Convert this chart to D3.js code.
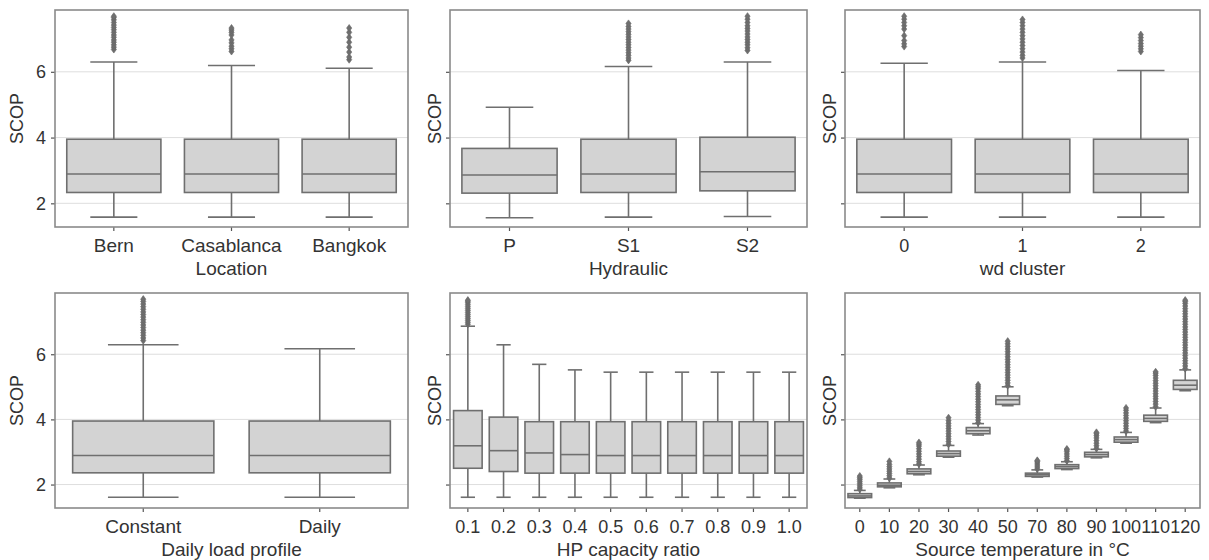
<!DOCTYPE html>
<html>
<head>
<meta charset="utf-8">
<script src="https://cdn.jsdelivr.net/npm/d3@7/dist/d3.min.js"></script>
<style>
  body { margin: 0; background: #fff; }
  text { font-family: "Liberation Sans", Arial, sans-serif; fill: #333; }
</style>
</head>
<body>
<div id="chart"></div>
<script>
"use strict";

// stats per box: [whisker low, q1, median, q3, whisker high]
const locationCats = ["Bern", "Casablanca", "Bangkok"];
const locationStats = [
    [1.58, 2.33, 2.89, 3.95, 6.30],
    [1.58, 2.33, 2.89, 3.95, 6.19],
    [1.58, 2.33, 2.89, 3.95, 6.11]
];
const locationFliers = [
    [6.68, 6.75, 6.82, 6.90, 6.97, 7.05, 7.12, 7.20, 7.28, 7.35, 7.42, 7.50, 7.58, 7.65, 7.69],
    [6.62, 6.70, 6.78, 6.88, 6.97, 7.12, 7.20, 7.27, 7.33],
    [6.37, 6.45, 6.60, 6.75, 6.90, 7.05, 7.20, 7.33]
];

const hydraulicCats = ["P", "S1", "S2"];
const hydraulicStats = [
    [1.56, 2.31, 2.86, 3.67, 4.92],
    [1.58, 2.33, 2.89, 3.95, 6.16],
    [1.60, 2.38, 2.96, 4.01, 6.30]
];
const hydraulicFliers = [
    [],
    [6.35, 6.42, 6.50, 6.58, 6.66, 6.74, 6.82, 6.90, 6.98, 7.06, 7.14, 7.22, 7.30, 7.38, 7.47],
    [6.65, 6.73, 6.82, 6.90, 6.98, 7.06, 7.15, 7.24, 7.32, 7.40, 7.50, 7.60, 7.69]
];

const clusterCats = ["0", "1", "2"];
const clusterStats = [
    [1.58, 2.33, 2.89, 3.95, 6.26],
    [1.58, 2.33, 2.89, 3.95, 6.30],
    [1.58, 2.33, 2.89, 3.95, 6.04]
];
const clusterFliers = [
    [6.77, 6.85, 6.95, 7.10, 7.30, 7.40, 7.50, 7.60, 7.69],
    [6.42, 6.50, 6.60, 6.70, 6.80, 6.90, 7.00, 7.10, 7.20, 7.30, 7.40, 7.50, 7.59],
    [6.62, 6.70, 6.78, 6.86, 6.95, 7.04, 7.13]
];

const profileCats = ["Constant", "Daily"];
const profileStats = [
    [1.61, 2.36, 2.89, 3.95, 6.29],
    [1.61, 2.36, 2.89, 3.95, 6.17]
];
const profileFliers = [
    [6.42, 6.50, 6.58, 6.66, 6.74, 6.82, 6.90, 6.98, 7.06, 7.14, 7.22, 7.30, 7.38, 7.46, 7.54, 7.62, 7.69],
    []
];

const ratioCats = ["0.1", "0.2", "0.3", "0.4", "0.5", "0.6", "0.7", "0.8", "0.9", "1.0"];
const ratioStats = [
    [1.61, 2.50, 3.19, 4.27, 6.86],
    [1.61, 2.40, 3.04, 4.07, 6.29],
    [1.61, 2.35, 2.97, 3.93, 5.69],
    [1.61, 2.35, 2.92, 3.93, 5.52],
    [1.61, 2.35, 2.89, 3.93, 5.45],
    [1.61, 2.35, 2.89, 3.93, 5.45],
    [1.61, 2.35, 2.89, 3.93, 5.45],
    [1.61, 2.35, 2.89, 3.93, 5.45],
    [1.61, 2.35, 2.89, 3.93, 5.45],
    [1.61, 2.35, 2.89, 3.93, 5.45]
];
const ratioFliers = [
    [6.92, 6.98, 7.04, 7.10, 7.16, 7.22, 7.28, 7.34, 7.40, 7.46, 7.52, 7.58, 7.63, 7.66],
    [], [], [], [], [], [], [], [], []
];

const tempCats = ["0", "10", "20", "30", "40", "50", "70", "80", "90", "100", "110", "120"];
const tempStats = [
    [1.58, 1.60, 1.65, 1.72, 1.82],
    [1.90, 1.93, 1.98, 2.05, 2.17],
    [2.30, 2.33, 2.40, 2.48, 2.60],
    [2.84, 2.87, 2.95, 3.03, 3.20],
    [3.52, 3.56, 3.65, 3.75, 3.87],
    [4.42, 4.46, 4.60, 4.72, 5.00],
    [2.23, 2.25, 2.30, 2.35, 2.45],
    [2.46, 2.49, 2.55, 2.61, 2.70],
    [2.82, 2.85, 2.92, 2.99, 3.08],
    [3.27, 3.30, 3.38, 3.46, 3.60],
    [3.90, 3.94, 4.03, 4.13, 4.35],
    [4.88, 4.92, 5.05, 5.20, 5.52]
];
const tempFliers = [
    [1.86, 1.92, 1.98, 2.04, 2.10, 2.16, 2.21, 2.26],
    [2.20, 2.27, 2.34, 2.41, 2.48, 2.55, 2.62, 2.71],
    [2.63, 2.70, 2.78, 2.86, 2.94, 3.02, 3.10, 3.18, 3.24, 3.29],
    [3.24, 3.32, 3.40, 3.48, 3.56, 3.64, 3.72, 3.80, 3.88, 3.96, 4.05],
    [3.90, 3.98, 4.06, 4.14, 4.22, 4.30, 4.38, 4.46, 4.54, 4.62, 4.70, 4.78, 4.86, 4.94, 5.00, 5.06],
    [5.04, 5.12, 5.20, 5.28, 5.36, 5.44, 5.52, 5.60, 5.68, 5.76, 5.84, 5.92, 6.00, 6.08, 6.16, 6.24, 6.32, 6.40],
    [2.48, 2.54, 2.60, 2.66, 2.71, 2.74],
    [2.73, 2.80, 2.87, 2.94, 3.01, 3.06, 3.09],
    [3.11, 3.19, 3.27, 3.35, 3.43, 3.50, 3.56, 3.60],
    [3.64, 3.72, 3.80, 3.88, 3.96, 4.04, 4.12, 4.20, 4.28, 4.35],
    [4.39, 4.47, 4.55, 4.63, 4.71, 4.79, 4.87, 4.95, 5.03, 5.11, 5.19, 5.27, 5.35, 5.42, 5.46],
    [5.56, 5.64, 5.72, 5.80, 5.88, 5.96, 6.04, 6.12, 6.20, 6.28, 6.36, 6.44, 6.52, 6.60, 6.68, 6.76, 6.84, 6.92, 7.00, 7.08, 7.16, 7.24, 7.32, 7.40, 7.48, 7.56, 7.62, 7.66]
];

const yTicks = [2, 4, 6];
const yDomain = [1.28, 7.88];

const msm = {
    width: 1209,
    height: 560,
    cols: [[55, 408], [450, 807], [845, 1200]],
    rows: [[10, 227], [293, 508]]
}

const boxColor = "#6f6f6f";
const boxFill = "#d3d3d3";

const panels = [
    { cats: locationCats, stats: locationStats, fliers: locationFliers, xlabel: "Location", row: 0, col: 0 },
    { cats: hydraulicCats, stats: hydraulicStats, fliers: hydraulicFliers, xlabel: "Hydraulic", row: 0, col: 1 },
    { cats: clusterCats, stats: clusterStats, fliers: clusterFliers, xlabel: "wd cluster", row: 0, col: 2 },
    { cats: profileCats, stats: profileStats, fliers: profileFliers, xlabel: "Daily load profile", row: 1, col: 0 },
    { cats: ratioCats, stats: ratioStats, fliers: ratioFliers, xlabel: "HP capacity ratio", row: 1, col: 1 },
    { cats: tempCats, stats: tempStats, fliers: tempFliers, xlabel: "Source temperature in \u00B0C", row: 1, col: 2 }
];

const svg = d3.select("#chart")
    .append("svg")
    .attr("width", msm.width)
    .attr("height", msm.height);

panels.forEach((p) => drawPanel(p));

function drawPanel(p) {
    let [x0, x1] = msm.cols[p.col];
    let [y0, y1] = msm.rows[p.row];
    let g = svg.append("g");

    let xScale = d3.scaleBand()
        .domain(p.cats)
        .range([x0, x1])
        .padding(0);
    let yScale = d3.scaleLinear()
        .domain(yDomain)
        .range([y1, y0]);

    // grid
    g.selectAll(".grid")
        .data(yTicks)
        .enter()
        .append("line")
        .attr("x1", x0).attr("x2", x1)
        .attr("y1", (d) => yScale(d)).attr("y2", (d) => yScale(d))
        .attr("stroke", "#dedede")
        .attr("stroke-width", 1);

    // axes
    let yAxis = d3.axisLeft(yScale)
        .tickValues(yTicks)
        .tickSize(4)
        .tickPadding(5)
        .tickFormat(p.col == 0 ? d3.format("d") : () => "");
    let ya = g.append("g")
        .attr("transform", "translate(" + x0 + ",0)")
        .call(yAxis);

    let xAxis = d3.axisBottom(xScale)
        .tickSize(4)
        .tickPadding(8);
    let xa = g.append("g")
        .attr("transform", "translate(0," + y1 + ")")
        .call(xAxis);

    [ya, xa].forEach((a) => {
        a.select(".domain").remove();
        a.selectAll(".tick line").attr("stroke", "#555").attr("stroke-width", 1.2);
        a.selectAll(".tick text")
            .style("font-size", (d) => isNaN(+d) ? "19px" : "18px")
            .style("font-family", "'Liberation Sans', Arial, sans-serif")
            .attr("fill", "#333");
    });

    // boxes
    let bw = xScale.bandwidth() * 0.8;
    let boxes = g.selectAll(".box")
        .data(p.stats)
        .enter()
        .append("g")
        .attr("transform", (d, i) => "translate(" + (xScale(p.cats[i]) + xScale.bandwidth() / 2) + ",0)");

    boxes.append("line")
        .attr("x1", 0).attr("x2", 0)
        .attr("y1", (d) => yScale(d[0])).attr("y2", (d) => yScale(d[1]))
        .attr("stroke", boxColor).attr("stroke-width", 1.6);
    boxes.append("line")
        .attr("x1", 0).attr("x2", 0)
        .attr("y1", (d) => yScale(d[3])).attr("y2", (d) => yScale(d[4]))
        .attr("stroke", boxColor).attr("stroke-width", 1.6);
    boxes.selectAll(".cap")
        .data((d) => [d[0], d[4]])
        .enter()
        .append("line")
        .attr("x1", -bw / 4).attr("x2", bw / 4)
        .attr("y1", (v) => yScale(v)).attr("y2", (v) => yScale(v))
        .attr("stroke", boxColor).attr("stroke-width", 1.6);
    boxes.append("rect")
        .attr("x", -bw / 2)
        .attr("width", bw)
        .attr("y", (d) => yScale(d[3]))
        .attr("height", (d) => yScale(d[1]) - yScale(d[3]))
        .attr("fill", boxFill)
        .attr("stroke", boxColor)
        .attr("stroke-width", 1.6);
    boxes.append("line")
        .attr("x1", -bw / 2).attr("x2", bw / 2)
        .attr("y1", (d) => yScale(d[2])).attr("y2", (d) => yScale(d[2]))
        .attr("stroke", boxColor).attr("stroke-width", 1.6);

    // outliers
    let diamond = "M0,-3.6L2.6,0L0,3.6L-2.6,0Z";
    p.fliers.forEach((arr, i) => {
        let cx = xScale(p.cats[i]) + xScale.bandwidth() / 2;
        g.selectAll(".flier" + i)
            .data(arr)
            .enter()
            .append("path")
            .attr("d", diamond)
            .attr("transform", (v) => "translate(" + cx + "," + yScale(v) + ")")
            .attr("fill", boxColor)
            .attr("stroke", "#666")
            .attr("stroke-width", 0.6);
    });

    // frame
    g.append("rect")
        .attr("x", x0).attr("y", y0)
        .attr("width", x1 - x0).attr("height", y1 - y0)
        .attr("fill", "none")
        .attr("stroke", "#8a8a8a")
        .attr("stroke-width", 1.6);

    // labels
    g.append("text")
        .attr("x", (x0 + x1) / 2)
        .attr("y", y1 + 48)
        .attr("text-anchor", "middle")
        .style("font-size", "19px")
        .text(p.xlabel);

    let lx = p.col == 0 ? x0 - 32 : x0 - 9;
    g.append("text")
        .attr("transform", "translate(" + lx + "," + ((y0 + y1) / 2) + ") rotate(-90)")
        .attr("text-anchor", "middle")
        .style("font-size", "18px")
        .text("SCOP");
}
</script>
</body>
</html>
